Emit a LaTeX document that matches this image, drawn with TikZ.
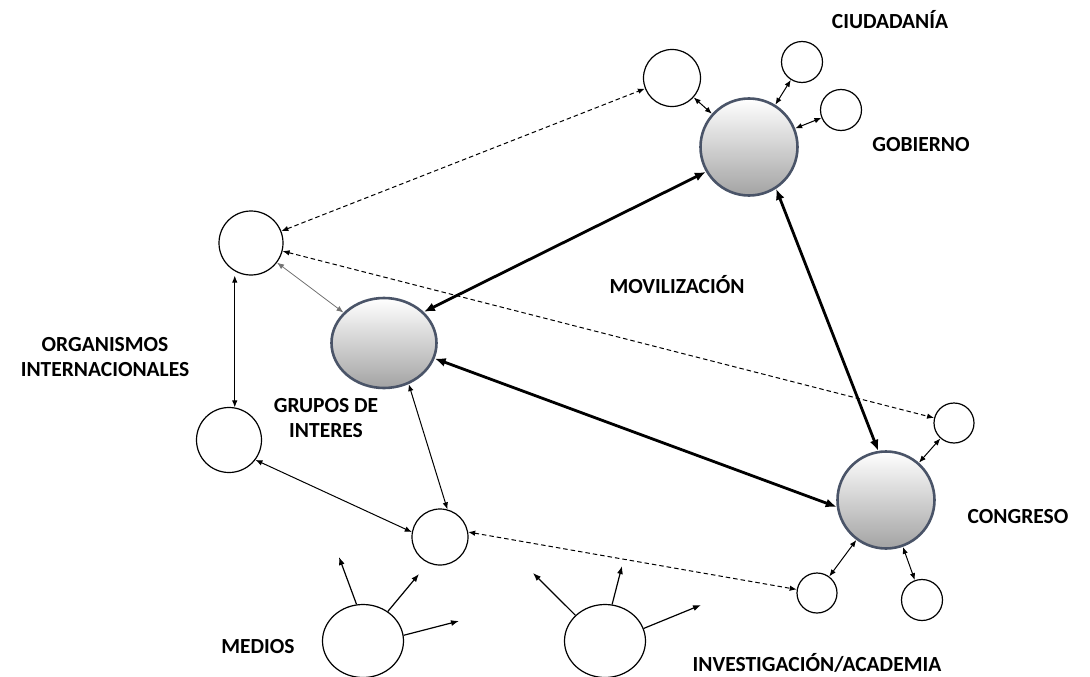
\documentclass[tikz,border=0pt]{standalone}
\usepackage{fontspec}
\setmainfont{Carlito}
\usetikzlibrary{arrows.meta,shapes.geometric,calc}
\definecolor{rim}{HTML}{4A5468}
\begin{document}
\begin{tikzpicture}[x=1pt,y=-1pt,
  small/.style={circle,draw,line width=1.2pt,inner sep=0pt,minimum size=#1},
  oval/.style={ellipse,draw,line width=1.2pt,inner sep=0pt,minimum width=81pt,minimum height=73pt},
  big/.style={circle,draw=rim,line width=2.6pt,inner sep=0pt,top color=white,middle color=black!11,bottom color=black!36,minimum size=97pt},
  lab/.style={font=\bfseries\fontsize{21.5}{24.5}\selectfont,align=center,inner sep=0pt},
  bitip/.style={line width=1pt,{Latex[length=7pt,width=5.5pt]}-{Latex[length=7pt,width=5.5pt]}},
  heavy/.style={line width=2.8pt,{Latex[length=11pt,width=9pt]}-{Latex[length=11pt,width=9pt]}},
  dline/.style={bitip,dashed,dash pattern=on 4.5pt off 3pt},
  emit/.style={line width=1.2pt,-{Latex[length=8pt,width=6pt]}}
]
\useasboundingbox (0,0) rectangle (1090,677);

% main actors
\node[big] (gob) at (749,147) {};
\node[big] (cong) at (886,500) {};
\node[big,ellipse,minimum width=105pt,minimum height=90pt] (grp) at (384,343) {};

% small circles
\node[small=57pt] (ciu1) at (672,78) {};
\node[small=41pt] (ciu2) at (802,62) {};
\node[small=41pt] (ciu3) at (841,110) {};
\node[small=64pt] (orgt) at (251,243) {};
\node[small=65pt] (orgb) at (229,440) {};
\node[small=56pt] (med1) at (440,537) {};
\node[oval] (medb) at (363,641) {};
\node[oval] (invb) at (605,641) {};
\node[small=40pt] (c1) at (954,423) {};
\node[small=40pt] (c2) at (817,593) {};
\node[small=41pt] (c3) at (922,600) {};

% free ends
\coordinate (m1) at (339,557);
\coordinate (m2) at (419,574);
\coordinate (m3) at (459,621);
\coordinate (i1) at (533,573);
\coordinate (i2) at (622,566);
\coordinate (i3) at (701,605);

% heavy connectors
\draw[heavy] (gob.210) -- (grp.38);
\draw[heavy] (gob.-57) -- (cong.99);
\draw[heavy] (grp.-17) -- (cong.188);

% satellites
\draw[bitip] (ciu1) -- (gob);
\draw[bitip] (ciu2) -- (gob);
\draw[bitip] (ciu3) -- (gob);
\draw[bitip] (c1) -- (cong);
\draw[bitip] (c2) -- (cong);
\draw[bitip] (c3) -- (cong);

% dashed links
\draw[dline] (orgt) -- (ciu1);
\draw[dline] (orgt) -- (c1);
\draw[dline] (med1.10) -- (c2);

% thin links
\draw[bitip,draw=black!55,line width=0.8pt] (orgt) -- (grp);
\draw[bitip] (orgt.south -| orgb.80) -- (orgb.80);
\draw[bitip] (orgb.-37) -- (med1.170);
\draw[bitip] (grp.-59) -- (med1.75);

% emitted arrows
\draw[emit] (medb.100) -- (m1);
\draw[emit] (medb.50) -- (m2);
\draw[emit] (medb.8) -- (m3);
\draw[emit] (invb.139) -- (i1);
\draw[emit] (invb.79) -- (i2);
\draw[emit] (invb.18) -- (i3);

% labels
\node[lab] (tciu) at (890,20) {CIUDADANÍA};
\node[lab] (tgob) at (921,145) {GOBIERNO};
\node[lab] (tmov) at (677,285) {MOVILIZACIÓN};
\node[lab] (torg) at (105,357) {ORGANISMOS\\INTERNACIONALES};
\node[lab] (tgrp) at (326,418) {GRUPOS DE\\INTERES};
\node[lab] (tcon) at (1018,517) {CONGRESO};
\node[lab] (tmed) at (258,647) {MEDIOS};
\node[lab] (tinv) at (817,663) {INVESTIGACIÓN/ACADEMIA};
\end{tikzpicture}
\end{document}
